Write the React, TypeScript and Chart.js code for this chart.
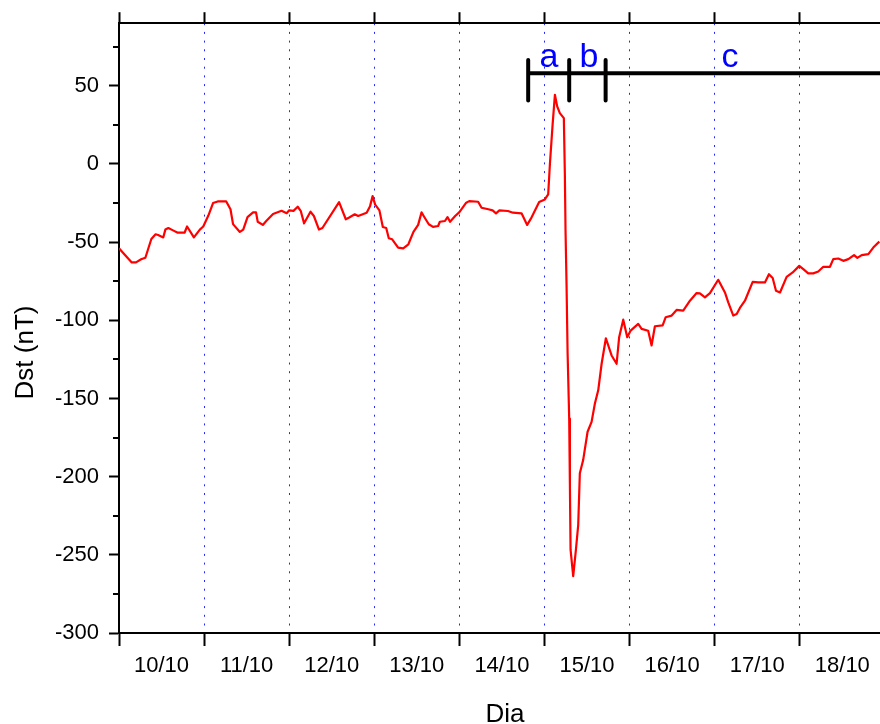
import React, { useEffect, useRef } from 'react';
import { Chart, registerables } from 'chart.js';

Chart.register(...registerables);

// Time in days since 10/10 00:00
const days = [
  0.0, 0.15, 0.2, 0.26, 0.31, 0.38, 0.43, 0.46, 0.52, 0.545, 0.58, 0.635, 0.69, 0.77, 0.8, 0.88, 0.95, 0.99,
  1.05, 1.105, 1.16, 1.26, 1.31, 1.34, 1.42, 1.46, 1.51, 1.575, 1.61, 1.63, 1.69, 1.73, 1.81, 1.91, 1.97,
  2.0, 2.05, 2.1, 2.135, 2.175, 2.25, 2.29, 2.35, 2.39, 2.586, 2.665, 2.7, 2.77, 2.81, 2.91, 2.95, 2.98,
  3.01, 3.06, 3.1, 3.14, 3.17, 3.21, 3.28, 3.34, 3.4, 3.46, 3.515, 3.555, 3.58, 3.64, 3.69, 3.75, 3.77,
  3.83, 3.86, 3.89, 3.95, 4.0, 4.08, 4.115, 4.22, 4.26, 4.34, 4.39, 4.43, 4.47, 4.57, 4.63, 4.73, 4.796,
  4.84, 4.937, 5.004, 5.043, 5.063, 5.095, 5.122, 5.149, 5.18, 5.227, 5.239, 5.247, 5.259, 5.271, 5.29,
  5.298, 5.306, 5.337, 5.369, 5.396, 5.415, 5.454, 5.506, 5.553, 5.592, 5.631, 5.671, 5.721, 5.788,
  5.847, 5.877, 5.925, 5.972, 6.012, 6.101, 6.141, 6.218, 6.258, 6.297, 6.388, 6.423, 6.494, 6.552,
  6.63, 6.709, 6.787, 6.826, 6.885, 6.944, 7.041, 7.12, 7.159, 7.218, 7.258, 7.296, 7.355, 7.446,
  7.512, 7.59, 7.637, 7.681, 7.72, 7.767, 7.845, 7.916, 7.993, 8.041, 8.099, 8.158, 8.217, 8.276,
  8.354, 8.393, 8.452, 8.511, 8.57, 8.637, 8.676, 8.727, 8.805, 8.863, 8.934,
];

// Dst index (nT)
const dst = [
  -54, -63, -63, -61, -60, -48, -45, -45.5, -47, -42, -41, -42.5, -44, -44, -40, -47, -42, -40,
  -33, -25, -24, -24, -29, -38.5, -43.5, -42, -34, -31, -31, -37, -39, -36.5, -32, -30, -31.5,
  -29.7, -30, -27.4, -30, -38, -30.6, -33.3, -42, -41, -24.4, -35.4, -34.4, -32.2, -33.3, -31.2, -27, -20.6,
  -26, -29.7, -40.3, -41, -47.5, -48.2, -53.5, -54, -51.4, -43.5, -39, -31, -33.3, -38.6, -40.3, -39.7, -37,
  -36.5, -34, -37, -33.3, -30.8, -24.8, -23.8, -24.2, -28, -29, -29.7, -31.6, -29.7, -30.1, -31.2, -31.6, -39,
  -35, -24.4, -22.7, -19.5, -0.4, 25.1, 44.2, 36.8, 32.5, 29.3, -6.8, -42.9, -77.9, -120.4, -162.8,
  -204.2, -246.7, -263.7, -246.7, -230.8, -197.8, -189.4, -171.3, -165, -153.2, -144.8, -127.8, -111.5, -122.5,
  -127.8, -110.8, -99.6, -110.8, -106.6, -102.3, -105.5, -106.7, -116.1, -103.8, -103.2, -98.1, -97, -93.4,
  -93.8, -87.5, -82.6, -82.8, -85.3, -82.6, -74.1, -82.2, -88.5, -97, -96, -92.1, -87.5, -75.4,
  -75.8, -75.8, -70.5, -73, -81.1, -82.2, -72.2, -69.4, -65.2, -67.3, -70, -70, -68.8, -65.8,
  -65.8, -60.9, -60.5, -62, -60.9, -58.3, -60.1, -58.3, -57.7, -53.5, -49.7,
];

const dayLabels = ['10/10', '11/10', '12/10', '13/10', '14/10', '15/10', '16/10', '17/10', '18/10'];
const dayTicks = dayLabels.map((_, i) => i);
const yMajorTicks = [-300, -250, -200, -150, -100, -50, 0, 50];
const yMinorTicks = [-275, -225, -175, -125, -75, -25, 25, 75];

// Storm phases: a (initial), b (main), c (recovery)
const phaseLabels = ['a', 'b', 'c'];
const phaseStarts = [4.808, 5.29, 5.718];
const phaseLabelDays = [5.051, 5.521, 7.179];
const phaseBarLevel = 58;
const phaseTickTop = 66.5;
const phaseTickBottom = 40.5;
const phaseLabelLevel = 62.2;

const X_MIN = 0;
const X_MAX = 8.942;
const Y_MIN = -300;
const Y_MAX = 90;

const FONT = '"Liberation Sans", Arial, Helvetica, sans-serif';

const extrasPlugin = {
  id: 'extras',
  afterDraw(chart: any) {
    const { ctx, chartArea, scales } = chart;
    const xs = scales.x;
    const ys = scales.y;
    ctx.save();
    // minor ticks on the left axis
    ctx.strokeStyle = '#000';
    ctx.lineWidth = 2;
    for (const v of yMinorTicks) {
      const y = Math.round(ys.getPixelForValue(v));
      ctx.beginPath();
      ctx.moveTo(chartArea.left - 6, y);
      ctx.lineTo(chartArea.left, y);
      ctx.stroke();
    }
    // phase letters
    ctx.fillStyle = '#0000ff';
    ctx.font = `34px ${FONT}`;
    ctx.textAlign = 'center';
    ctx.textBaseline = 'alphabetic';
    phaseLabels.forEach((t, i) => {
      ctx.fillText(t, xs.getPixelForValue(phaseLabelDays[i]), ys.getPixelForValue(phaseLabelLevel));
    });
    // axis titles
    ctx.fillStyle = '#000';
    ctx.font = `26px ${FONT}`;
    ctx.textAlign = 'center';
    ctx.textBaseline = 'alphabetic';
    ctx.fillText('Dia', 505, 721.5);
    ctx.translate(33.3, 352.5);
    ctx.rotate(-Math.PI / 2);
    ctx.fillText('Dst (nT)', 0, 0);
    ctx.restore();
  },
};

export default function App() {
  const canvasRef = useRef<HTMLCanvasElement | null>(null);

  useEffect(() => {
    const canvas = canvasRef.current;
    if (!canvas) return;

    const bracketSets = phaseStarts.map((d) => ({
      type: 'line' as const,
      data: [
        { x: d, y: phaseTickTop },
        { x: d, y: phaseTickBottom },
      ],
      borderColor: '#000',
      borderWidth: 4,
      borderCapStyle: 'round' as const,
      pointRadius: 0,
      xAxisID: 'x',
      yAxisID: 'y',
    }));

    const chart = new Chart(canvas, {
      type: 'line',
      data: {
        datasets: [
          {
            label: 'Dst',
            data: days.map((d, i) => ({ x: d, y: dst[i] })),
            borderColor: '#ff0000',
            borderWidth: 2.2,
            borderJoinStyle: 'round',
            pointRadius: 0,
            tension: 0,
            xAxisID: 'x',
            yAxisID: 'y',
          },
          {
            label: 'phases',
            data: [
              { x: phaseStarts[0], y: phaseBarLevel },
              { x: X_MAX, y: phaseBarLevel },
            ],
            borderColor: '#000',
            borderWidth: 4,
            pointRadius: 0,
            xAxisID: 'x',
            yAxisID: 'y',
          },
          ...bracketSets,
        ],
      },
      options: {
        responsive: false,
        animation: false,
        layout: { padding: 0 },
        plugins: {
          legend: { display: false },
          tooltip: { enabled: false },
        },
        scales: {
          x: {
            type: 'linear',
            position: 'bottom',
            min: X_MIN,
            max: X_MAX,
            afterBuildTicks: (scale: any) => {
              scale.ticks = dayTicks.map((v) => ({ value: v }));
            },
            afterFit: (scale: any) => {
              scale.height = 91;
            },
            ticks: {
              autoSkip: false,
              maxRotation: 0,
              labelOffset: 42.5,
              padding: 7,
              color: '#000',
              font: { size: 22, family: FONT },
              callback: (_v: any, i: number) => dayLabels[i] ?? '',
            },
            grid: {
              drawOnChartArea: true,
              drawTicks: true,
              color: 'rgba(0,0,255,0.85)',
              lineWidth: 1,
              tickLength: 13,
              tickWidth: 2,
              tickColor: '#000',
              tickBorderDash: [],
            },
            border: { display: true, color: '#000', width: 2, dash: [2, 6.7] },
          },
          x2: {
            type: 'linear',
            position: 'top',
            min: X_MIN,
            max: X_MAX,
            afterBuildTicks: (scale: any) => {
              scale.ticks = dayTicks.map((v) => ({ value: v }));
            },
            afterFit: (scale: any) => {
              scale.height = 22;
            },
            ticks: { display: false },
            grid: {
              drawOnChartArea: false,
              drawTicks: true,
              tickLength: 11,
              tickWidth: 2,
              tickColor: '#000',
              color: '#000',
            },
            border: { display: true, color: '#000', width: 2 },
          },
          y: {
            type: 'linear',
            position: 'left',
            min: Y_MIN,
            max: Y_MAX,
            afterBuildTicks: (scale: any) => {
              scale.ticks = yMajorTicks.map((v) => ({ value: v }));
            },
            afterFit: (scale: any) => {
              scale.width = 119;
            },
            ticks: {
              padding: 10,
              color: '#000',
              font: { size: 22, family: FONT },
              callback: (v: any) => String(v),
            },
            grid: {
              drawOnChartArea: false,
              drawTicks: true,
              tickLength: 10,
              tickWidth: 2,
              tickColor: '#000',
              color: '#000',
            },
            border: { display: true, color: '#000', width: 2 },
          },
        },
      },
      plugins: [extrasPlugin],
    });

    return () => chart.destroy();
  }, []);

  return (
    <div
      style={{
        position: 'absolute',
        left: 0,
        top: 0,
        width: 880,
        height: 724,
        overflow: 'hidden',
        background: '#fff',
      }}
    >
      <canvas ref={canvasRef} width={880} height={724} style={{ display: 'block' }} />
    </div>
  );
}
